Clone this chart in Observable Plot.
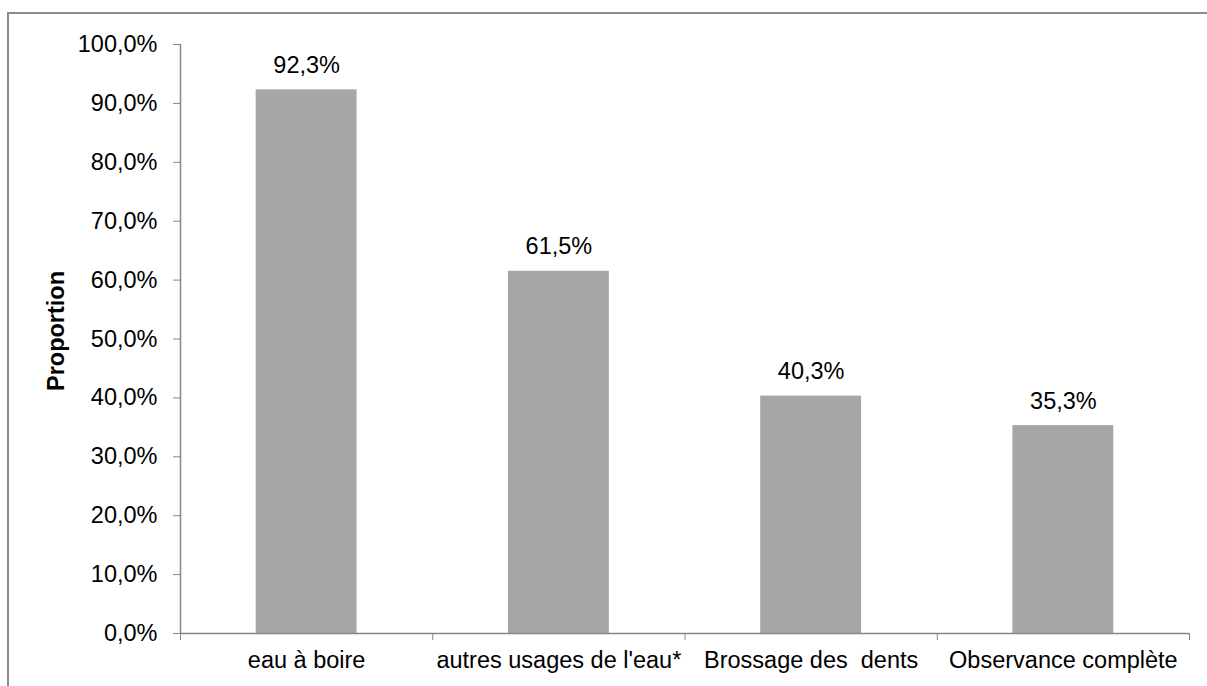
<!DOCTYPE html>
<html>
<head>
<meta charset="utf-8">
<script src="https://cdn.jsdelivr.net/npm/d3@7"></script>
<script src="https://cdn.jsdelivr.net/npm/@observablehq/plot@0.6"></script>
<style>
  html, body { margin: 0; padding: 0; background: #fff; overflow: hidden; }
  #wrap { position: relative; width: 1207px; height: 686px; }
  #border { position: absolute; left: 7px; top: 12px; width: 1210px; height: 700px; border: 2px solid #8c8c8c; box-sizing: border-box; pointer-events: none; }
  #chart { position: absolute; left: 0; top: 0; }
</style>
</head>
<body>
<div id="wrap"><div id="border"></div><div id="chart"></div></div>
<script>
const categories = ["eau à boire", "autres usages de l'eau*", "Brossage des  dents", "Observance complète"];
const values = [92.3, 61.5, 40.3, 35.3];
const yTicks = [0, 10, 20, 30, 40, 50, 60, 70, 80, 90, 100];

const fmt = v => v.toFixed(1).replace(".", ",") + "%";
const data = categories.map((c, i) => ({cat: c, i, value: values[i]}));
const bounds = d3.range(categories.length + 1);
const centers = categories.map((c, i) => i + 0.5);

const width = 1207, height = 686;
const mL = 180, mR = 18, mT = 44, mB = 53;
const step = (width - mL - mR) / categories.length;
const inset = step * 0.3;
const font = "'Liberation Sans', Arial, sans-serif";
const fs = 23.5;

const chart = Plot.plot({
  width, height,
  marginLeft: mL, marginRight: mR, marginTop: mT, marginBottom: mB,
  style: {fontFamily: font, fontSize: fs + "px", color: "#000", background: "transparent"},
  x: {type: "linear", domain: [0, categories.length]},
  y: {domain: [0, 100]},
  marks: [
    Plot.rectY(data, {x1: "i", x2: d => d.i + 1, y: "value", fill: "#a6a6a6", insetLeft: inset, insetRight: inset}),
    Plot.text(data, {x: d => d.i + 0.5, y: "value", text: d => fmt(d.value), lineAnchor: "bottom", dy: -17, fontSize: fs, fill: "#000"}),
    Plot.axisY({ticks: yTicks, tickFormat: fmt, tickSize: 7, tickPadding: 16, stroke: "#868686", fill: "#000", fontSize: fs, label: null}),
    Plot.ruleX([0], {stroke: "#868686", strokeWidth: 1.5}),
    Plot.axisX({ticks: bounds, tickFormat: () => "", tickSize: 7, stroke: "#868686", label: null}),
    Plot.axisX({ticks: centers, tickFormat: v => categories[Math.round(v - 0.5)], tickSize: 0, tickPadding: 18, fill: "#000", fontSize: fs, label: null}),
    Plot.ruleY([0], {stroke: "#868686", strokeWidth: 1.5}),
    Plot.text(["Proportion"], {frameAnchor: "left", text: d => d, rotate: -90, dx: -117, dy: -8, fontWeight: "bold", fontSize: fs, fill: "#000", textAnchor: "middle", lineAnchor: "bottom"})
  ]
});
document.getElementById("chart").appendChild(chart);
</script>
</body>
</html>
